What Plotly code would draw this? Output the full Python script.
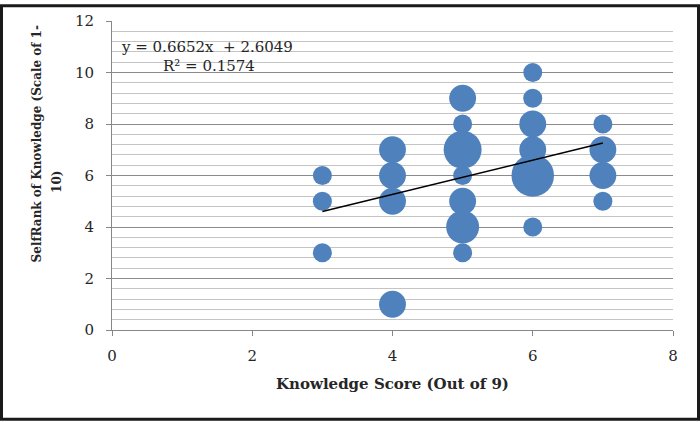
import plotly.graph_objects as go

# bubble data: knowledge score, self rank, number of respondents
score = [3, 3, 3,
         4, 4, 4, 4,
         5, 5, 5, 5, 5, 5, 5,
         6, 6, 6, 6, 6, 6,
         7, 7, 7, 7]
rank = [6, 5, 3,
        7, 6, 5, 1,
        9, 8, 7, 6, 5, 4, 3,
        10, 9, 8, 7, 6, 4,
        8, 7, 6, 5]
count = [1, 1, 1,
         2, 2, 2, 2,
         2, 1, 4, 1, 2, 3, 1,
         1, 1, 2, 2, 5, 1,
         1, 2, 2, 1]

# linear trendline from Excel
slope = 0.6652
intercept = 2.6049
r2 = 0.1574

FONT = "DejaVu Serif"
L, R, T, B = 112, 27, 17, 92
W, H = 700, 422
pw, ph = W - L - R, H - T - B

fig = go.Figure()

# plotly area mode: diameter = sqrt(2*v/sizeref) -> 19px for one person
fig.add_trace(go.Scatter(
    x=score, y=rank, mode="markers",
    marker=dict(size=count, sizemode="area", sizeref=2 / 19 ** 2,
                color="#4F81BD", line=dict(width=0), opacity=1),
    hoverinfo="x+y+text", text=count, showlegend=False))

tx = [min(score), max(score)]
fig.add_trace(go.Scatter(
    x=tx, y=[slope * v + intercept for v in tx], mode="lines",
    line=dict(color="black", width=1.5), showlegend=False, hoverinfo="skip"))

fig.update_layout(
    width=W, height=H,
    margin=dict(l=L, r=R, t=T, b=B),
    paper_bgcolor="white", plot_bgcolor="white",
    font=dict(family=FONT, size=15, color="#262626"),
    xaxis=dict(range=[0, 8], dtick=2, tick0=0, showgrid=False, zeroline=False,
               showline=True, linecolor="#878787", linewidth=1,
               ticks="outside", ticklen=5, tickcolor="#878787",
               ticklabelstandoff=7,
               title=dict(text="<b>Knowledge Score (Out of 9)</b>",
                          font=dict(size=15), standoff=14)),
    yaxis=dict(range=[0, 12], dtick=2, tick0=0, showgrid=True,
               gridcolor="#8a8a8a", gridwidth=1, zeroline=False,
               showline=True, linecolor="#878787", linewidth=1,
               ticks="outside", ticklen=5, tickcolor="#878787",
               ticklabelstandoff=9,
               minor=dict(dtick=0.4, tick0=0, showgrid=True,
                          gridcolor="#c4c4c4", gridwidth=1, ticks="")),
    shapes=[dict(type="rect", xref="paper", yref="paper",
                 x0=(1.5 - L) / pw, x1=(W - 1.5 - L) / pw,
                 y0=(H - B - (H - 1.5)) / ph, y1=(H - B - 1.5) / ph,
                 line=dict(color="#1a1a1a", width=3))],
)

# y title in two lines, as wrapped in the original
fig.add_annotation(text="<b>SelfRank of Knowledge (Scale of 1-</b>",
                   xref="paper", yref="paper", textangle=-90,
                   x=(37 - L) / pw, y=(H - B - 142) / ph,
                   xanchor="center", yanchor="middle",
                   showarrow=False, font=dict(size=12))
fig.add_annotation(text="<b>10)</b>",
                   xref="paper", yref="paper", textangle=-90,
                   x=(57 - L) / pw, y=(H - B - 180) / ph,
                   xanchor="center", yanchor="middle",
                   showarrow=False, font=dict(size=12))

# trendline equation
fig.add_annotation(text=f"y = {slope}x  + {intercept}",
                   xref="paper", yref="paper",
                   x=(207 - L) / pw, y=(H - B - 43) / ph,
                   xanchor="center", yanchor="middle",
                   showarrow=False, font=dict(size=15))
fig.add_annotation(text=f"R² = {r2}",
                   xref="paper", yref="paper",
                   x=(209 - L) / pw, y=(H - B - 63) / ph,
                   xanchor="center", yanchor="middle",
                   showarrow=False, font=dict(size=15))

# drop the default body margin so the chart fills the window
fig.write_html("out.html", config={"displayModeBar": False},
               post_script="document.body.style.margin='0';")
